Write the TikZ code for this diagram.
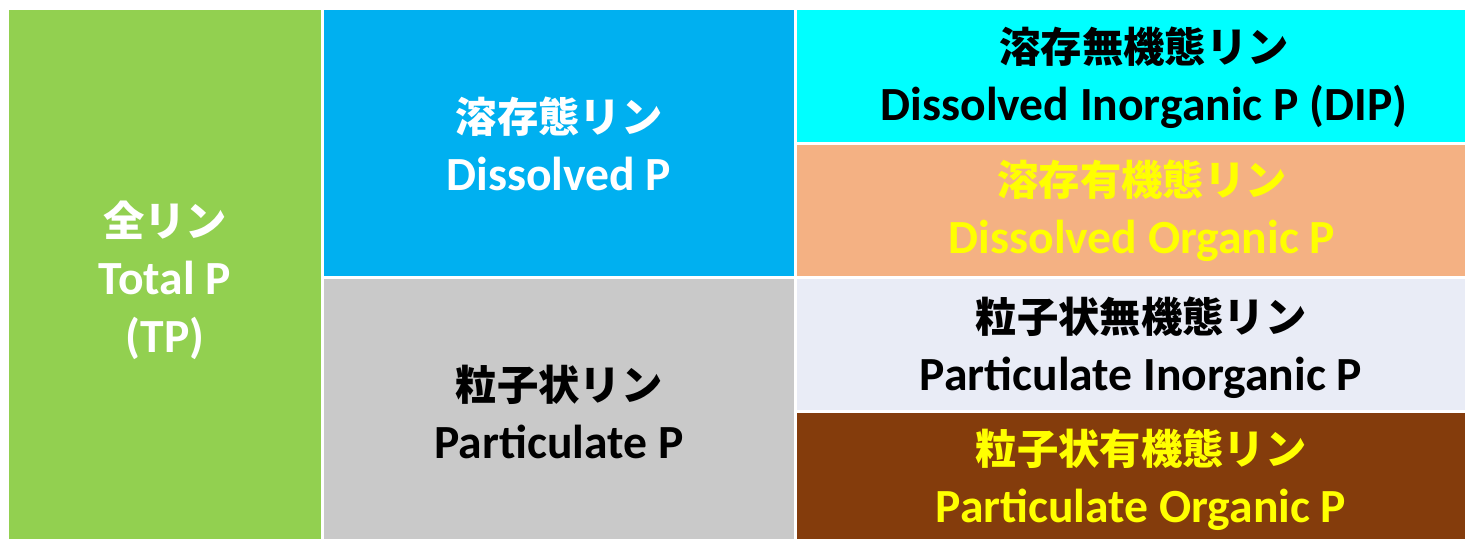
\documentclass[tikz,border=0pt]{standalone}
\usepackage{fontspec}
\setmainfont{Carlito}[BoldFont={Carlito Bold}]
\newfontfamily\jpfont{Noto Sans CJK JP Bold}
\definecolor{cgreen}{HTML}{92D050}
\definecolor{cblue}{HTML}{00B0F0}
\definecolor{cgray}{HTML}{C9C9C9}
\definecolor{ccyan}{HTML}{00FFFF}
\definecolor{corange}{HTML}{F4B183}
\definecolor{clight}{HTML}{E9ECF6}
\definecolor{cbrown}{HTML}{843C0C}
\definecolor{cyellow}{HTML}{FFFF00}
\tikzset{
  lbl/.style={align=center, font=\fontsize{35.7}{43.5}\selectfont\bfseries, inner sep=0pt},
}
\newcommand{\jp}[1]{{\fontsize{31}{43.5}\selectfont\jpfont #1}}
\begin{document}
\begin{tikzpicture}[x=0.75pt,y=-0.75pt]
\useasboundingbox (0,0) rectangle (1465,539);
\fill[white] (0,0) rectangle (1465,539);
\fill[cgreen] (9,10) rectangle (321,539);
\fill[cblue] (324,10) rectangle (794,276);
\fill[cgray] (324,279) rectangle (794,539);
\fill[ccyan] (797,10) rectangle (1465,142);
\fill[corange] (797,145) rectangle (1465,276);
\fill[clight] (797,279) rectangle (1465,410);
\fill[cbrown] (797,413) rectangle (1465,539);
\node[lbl, text=white] (tp) at (165,280) {\jp{全リン}\\Total P\\(TP)};
\node[lbl, text=white] (dp) at (559,144) {\jp{溶存態リン}\\Dissolved P};
\node[lbl, text=black] (pp) at (559,412) {\jp{粒子状リン}\\Particulate P};
\node[lbl, text=black] (dip) at (1144,78) {\jp{溶存無機態リン}\\Dissolved Inorganic P (DIP)};
\node[lbl, text=cyellow] (dop) at (1142,211) {\jp{溶存有機態リン}\\Dissolved Organic P};
\node[lbl, text=black] (pip) at (1141,348) {\jp{粒子状無機態リン}\\Particulate Inorganic P};
\node[lbl, text=cyellow] (pop) at (1141,480) {\jp{粒子状有機態リン}\\Particulate Organic P};
\end{tikzpicture}
\end{document}
